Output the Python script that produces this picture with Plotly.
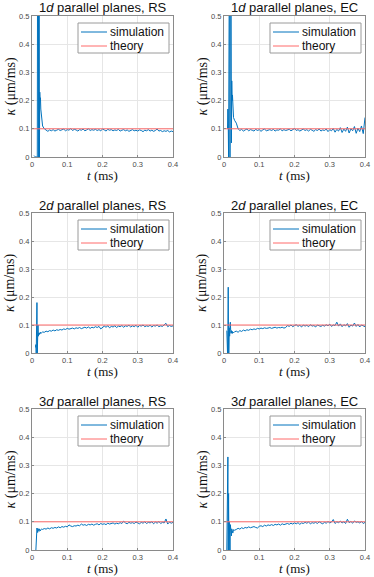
import plotly.graph_objects as go

W, H = 374, 577

# time grid (ms): fine near the start, 5 us steps afterwards
T_EARLY = [0.006, 0.008, 0.010, 0.011, 0.012, 0.013, 0.014, 0.015, 0.016, 0.017,
           0.018, 0.019, 0.020, 0.021, 0.022, 0.023, 0.024, 0.025, 0.027, 0.030]
T_LATE = [0.035, 0.040, 0.045, 0.050, 0.055, 0.060, 0.065, 0.070, 0.075, 0.080,
          0.085, 0.090, 0.095, 0.100, 0.105, 0.110, 0.115, 0.120, 0.125, 0.130,
          0.135, 0.140, 0.145, 0.150, 0.155, 0.160, 0.165, 0.170, 0.175, 0.180,
          0.185, 0.190, 0.195, 0.200, 0.205, 0.210, 0.215, 0.220, 0.225, 0.230,
          0.235, 0.240, 0.245, 0.250, 0.255, 0.260, 0.265, 0.270, 0.275, 0.280,
          0.285, 0.290, 0.295, 0.300, 0.305, 0.310, 0.315, 0.320, 0.325, 0.330,
          0.335, 0.340, 0.345, 0.350, 0.355, 0.360, 0.365, 0.370, 0.375, 0.380,
          0.385, 0.390, 0.395, 0.400]
T = T_EARLY + T_LATE

THEORY = 0.1
T_RANGE = [0, 0.4]
X_TICKS = [0, 0.1, 0.2, 0.3, 0.4]
X_LABELS = ["0", "0.1", "0.2", "0.3", "0.4"]
Y_TICKS = [0, 0.1, 0.2, 0.3, 0.4, 0.5]
Y_LABELS = ["0", "0.1", "0.2", "0.3", "0.4", "0.5"]
LEGEND_NAMES = ["simulation", "theory"]

TITLES = ["1<i>d</i> parallel planes, RS", "1<i>d</i> parallel planes, EC",
          "2<i>d</i> parallel planes, RS", "2<i>d</i> parallel planes, EC",
          "3<i>d</i> parallel planes, RS", "3<i>d</i> parallel planes, EC"]

K_1D_RS = [0.005, 0.0, 0.0, 0.0, 0.0, 0.0, 0.0, 0.0, 0.9, 0.0,
           1.0, 0.0, 0.9, 0.0, 0.23, 0.20, 0.21, 0.17, 0.13, 0.11,
           0.100, 0.094, 0.091, 0.096, 0.093, 0.097, 0.092, 0.095, 0.098, 0.094,
           0.096, 0.099, 0.093, 0.097, 0.095, 0.101, 0.094, 0.098, 0.096, 0.092,
           0.097, 0.095, 0.099, 0.093, 0.096, 0.100, 0.094, 0.097, 0.095, 0.098,
           0.094, 0.097, 0.093, 0.099, 0.096, 0.092, 0.098, 0.095, 0.097, 0.093,
           0.096, 0.094, 0.098, 0.092, 0.095, 0.097, 0.093, 0.096, 0.091, 0.095,
           0.097, 0.093, 0.095, 0.092, 0.096, 0.094, 0.090, 0.095, 0.093, 0.097,
           0.092, 0.095, 0.091, 0.094, 0.099, 0.092, 0.094, 0.090, 0.093, 0.091,
           0.094, 0.089, 0.092, 0.090]

K_1D_EC = [None, None, 0.10, 0.17, 0.12, 0.0, 0.9, 0.0, 1.0, 0.0,
           0.9, 0.0, 0.8, 0.05, 0.27, 0.20, 0.22, 0.16, 0.14, 0.13,
           0.120, 0.100, 0.094, 0.098, 0.092, 0.096, 0.099, 0.093, 0.097, 0.095,
           0.092, 0.098, 0.094, 0.097, 0.091, 0.096, 0.099, 0.093, 0.095, 0.097,
           0.094, 0.098, 0.092, 0.096, 0.095, 0.099, 0.093, 0.097, 0.094, 0.096,
           0.098, 0.093, 0.096, 0.101, 0.094, 0.097, 0.092, 0.096, 0.099, 0.094,
           0.097, 0.092, 0.098, 0.095, 0.091, 0.097, 0.094, 0.099, 0.092, 0.096,
           0.094, 0.099, 0.090, 0.097, 0.093, 0.101, 0.088, 0.098, 0.092, 0.104,
           0.087, 0.099, 0.091, 0.106, 0.085, 0.100, 0.093, 0.108, 0.084, 0.102,
           0.090, 0.110, 0.083, 0.140]

K_2D_RS = [None, None, 0.02, 0.03, 0.0, 0.12, 0.18, 0.0, 0.06, 0.10,
           0.06, 0.07, 0.065, 0.072, 0.068, 0.070, 0.074, 0.070, 0.072, 0.075,
           0.074, 0.078, 0.076, 0.080, 0.078, 0.082, 0.079, 0.083, 0.081, 0.084,
           0.082, 0.086, 0.084, 0.088, 0.085, 0.087, 0.089, 0.086, 0.090, 0.088,
           0.091, 0.087, 0.090, 0.092, 0.089, 0.093, 0.088, 0.092, 0.090, 0.094,
           0.091, 0.095, 0.086, 0.093, 0.096, 0.092, 0.097, 0.090, 0.095, 0.093,
           0.097, 0.091, 0.096, 0.094, 0.098, 0.092, 0.097, 0.095, 0.099, 0.093,
           0.097, 0.094, 0.099, 0.092, 0.098, 0.096, 0.100, 0.094, 0.097, 0.095,
           0.099, 0.093, 0.098, 0.096, 0.100, 0.094, 0.097, 0.095, 0.099, 0.106,
           0.094, 0.098, 0.095, 0.097]

K_2D_EC = [None, 0.08, 0.0, 0.08, 0.235, 0.0, 0.0, 0.09, 0.06, 0.10,
           0.11, 0.08, 0.07, 0.08, 0.072, 0.078, 0.070, 0.075, 0.072, 0.076,
           0.078, 0.074, 0.080, 0.077, 0.082, 0.079, 0.083, 0.081, 0.085, 0.083,
           0.086, 0.084, 0.088, 0.086, 0.089, 0.087, 0.090, 0.088, 0.089, 0.091,
           0.088, 0.090, 0.092, 0.089, 0.091, 0.090, 0.092, 0.089, 0.091, 0.098,
           0.095, 0.100, 0.094, 0.098, 0.101, 0.095, 0.099, 0.093, 0.100, 0.096,
           0.099, 0.094, 0.101, 0.096, 0.098, 0.093, 0.100, 0.097, 0.095, 0.099,
           0.096, 0.101, 0.097, 0.103, 0.095, 0.100, 0.098, 0.110, 0.096, 0.104,
           0.094, 0.101, 0.097, 0.105, 0.092, 0.100, 0.096, 0.107, 0.095, 0.102,
           0.093, 0.100, 0.096, 0.094]

K_3D_RS = [None, None, None, 0.0, 0.075, 0.065, 0.078, 0.070, 0.062, 0.076,
           0.068, 0.074, 0.066, 0.075, 0.070, 0.073, 0.068, 0.072, 0.074, 0.073,
           0.076, 0.074, 0.078, 0.075, 0.079, 0.077, 0.080, 0.078, 0.082, 0.079,
           0.083, 0.081, 0.084, 0.082, 0.089, 0.085, 0.083, 0.086, 0.085, 0.088,
           0.086, 0.092, 0.088, 0.090, 0.087, 0.091, 0.089, 0.092, 0.088, 0.091,
           0.093, 0.089, 0.094, 0.091, 0.093, 0.090, 0.095, 0.092, 0.094, 0.096,
           0.092, 0.095, 0.093, 0.097, 0.094, 0.102, 0.096, 0.093, 0.098, 0.095,
           0.097, 0.094, 0.099, 0.096, 0.093, 0.098, 0.095, 0.100, 0.094, 0.098,
           0.096, 0.100, 0.093, 0.099, 0.095, 0.101, 0.094, 0.098, 0.096, 0.110,
           0.092, 0.099, 0.095, 0.098]

K_3D_EC = [None, 0.0, 0.17, 0.33, 0.0, 0.20, 0.0, 0.10, 0.03, 0.0,
           0.09, 0.06, 0.08, 0.05, 0.075, 0.065, 0.070, 0.060, 0.072, 0.070,
           0.073, 0.077, 0.074, 0.079, 0.076, 0.080, 0.078, 0.082, 0.079, 0.081,
           0.083, 0.080, 0.078, 0.084, 0.086, 0.083, 0.088, 0.085, 0.089, 0.087,
           0.090, 0.087, 0.091, 0.089, 0.092, 0.088, 0.093, 0.090, 0.092, 0.094,
           0.091, 0.095, 0.092, 0.096, 0.093, 0.097, 0.091, 0.096, 0.094, 0.098,
           0.095, 0.099, 0.093, 0.097, 0.095, 0.098, 0.094, 0.100, 0.096, 0.093,
           0.098, 0.095, 0.101, 0.096, 0.099, 0.108, 0.094, 0.100, 0.097, 0.102,
           0.096, 0.100, 0.094, 0.109, 0.097, 0.101, 0.095, 0.103, 0.098, 0.100,
           0.096, 0.101, 0.094, 0.098]

SERIES = [K_1D_RS, K_1D_EC, K_2D_RS, K_2D_EC, K_3D_RS, K_3D_EC]

BLUE = "#0072BD"
RED = "#ff6b6b"
FRAME = "#8a8a8a"
SANS = "Liberation Sans, Arial"
SERIF = "Liberation Serif, DejaVu Serif"
TICK_FONT = dict(family=SANS, size=7.5, color="#4a4a4a")

# plot boxes in pixels: (left, right), (top, bottom)
COLS = [(32, 173), (224, 365)]
ROWS = [(16, 157), (213, 353), (409, 550)]


def px_x(x):
    return x / W


def px_y(y):
    return 1 - y / H


def axis_style(ticks, labels, rng):
    return dict(range=rng, tickvals=ticks, ticktext=labels, automargin=False,
                showgrid=True, gridcolor="#e6e6e6", gridwidth=1, zeroline=False,
                showline=True, linecolor=FRAME, linewidth=1, mirror=True,
                ticks="inside", ticklen=2, tickcolor=FRAME, tickfont=TICK_FONT,
                ticklabeloverflow="allow")


fig = go.Figure()
layout = dict(width=W, height=H, margin=dict(l=0, r=0, t=0, b=0), template="none",
              paper_bgcolor="white", plot_bgcolor="white", showlegend=False,
              hovermode=False, annotations=[], shapes=[])

for i, series in enumerate(SERIES):
    n = i + 1
    (x0, x1), (y0, y1) = COLS[i % 2], ROWS[i // 2]
    sfx = "" if n == 1 else str(n)

    fig.add_trace(go.Scatter(x=T, y=series, mode="lines", name=LEGEND_NAMES[0],
                             line=dict(color=BLUE, width=1), connectgaps=False,
                             xaxis=f"x{sfx}", yaxis=f"y{sfx}"))
    fig.add_trace(go.Scatter(x=T_RANGE, y=[THEORY, THEORY], mode="lines",
                             name=LEGEND_NAMES[1], line=dict(color=RED, width=1),
                             xaxis=f"x{sfx}", yaxis=f"y{sfx}"))

    layout[f"xaxis{sfx}"] = dict(domain=[px_x(x0), px_x(x1)], anchor=f"y{sfx}",
                                 **axis_style(X_TICKS, X_LABELS, [0, 0.4]))
    layout[f"yaxis{sfx}"] = dict(domain=[px_y(y1), px_y(y0)], anchor=f"x{sfx}",
                                 **axis_style(Y_TICKS, Y_LABELS, [0, 0.5]))

    # MATLAB-style legend box in the top-right corner of each panel
    layout["shapes"].append(dict(type="rect", xref="paper", yref="paper",
                                 x0=px_x(x1 - 95), x1=px_x(x1 - 4),
                                 y0=px_y(y0 + 37), y1=px_y(y0 + 7),
                                 line=dict(color="#9a9a9a", width=1), fillcolor="white"))
    for k, (name, col) in enumerate(zip(LEGEND_NAMES, [BLUE, RED])):
        ly = y0 + 16 + 14 * k
        layout["shapes"].append(dict(type="line", xref="paper", yref="paper",
                                     x0=px_x(x1 - 92), x1=px_x(x1 - 66),
                                     y0=px_y(ly), y1=px_y(ly),
                                     line=dict(color=col, width=1)))
        layout["annotations"].append(dict(text=name, x=px_x(x1 - 65), y=px_y(ly),
                                          xref="paper", yref="paper", xanchor="left",
                                          yanchor="middle", showarrow=False,
                                          font=dict(family=SANS, size=12, color="#111")))

    cx = (x0 + x1) / 2
    layout["annotations"] += [
        dict(text=TITLES[i], x=px_x(cx), y=px_y(y0 - 8), xref="paper", yref="paper",
             xanchor="center", yanchor="middle", showarrow=False,
             font=dict(family=SANS, size=13, color="#111")),
        dict(text="<i>t</i> (ms)", x=px_x(cx), y=px_y(y1 + 18), xref="paper",
             yref="paper", xanchor="center", yanchor="middle", showarrow=False,
             font=dict(family=SERIF, size=13, color="#111")),
        dict(text="<i>κ</i> (μm/ms)", x=px_x(x0 - 22), y=px_y((y0 + y1) / 2),
             xref="paper", yref="paper", xanchor="center", yanchor="middle",
             textangle=-90, showarrow=False,
             font=dict(family=SERIF, size=14, color="#111")),
    ]

fig.update_layout(**layout)
# drop the browser's default 8px body margin so the figure sits at the page corner
fig.write_html("out.html", config={"displayModeBar": False},
               post_script="document.body.style.margin='0';")
